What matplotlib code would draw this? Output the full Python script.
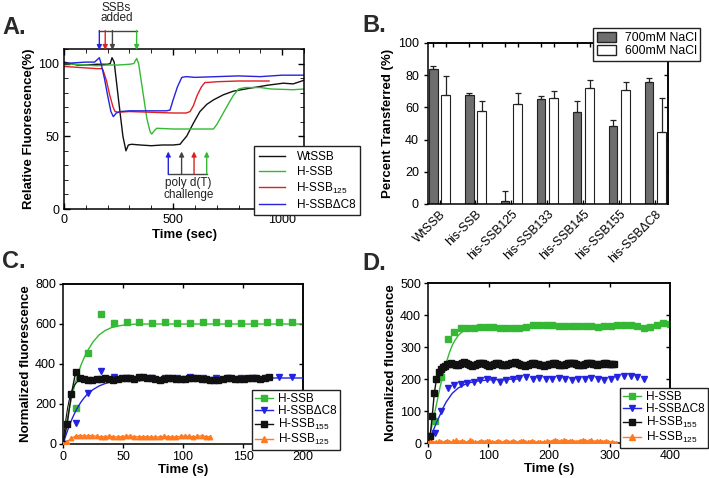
import numpy as np
import matplotlib
matplotlib.use('Agg')
import matplotlib.pyplot as plt
from matplotlib.lines import Line2D
from matplotlib.patches import Patch

plt.rcParams['font.family'] = ['Liberation Sans', 'DejaVu Sans']
plt.rcParams['mathtext.default'] = 'regular'
plt.rcParams['axes.linewidth'] = 1.1
plt.rcParams['xtick.major.width'] = 1.0
plt.rcParams['ytick.major.width'] = 1.0

GREEN = '#35b935'
BLUE = '#2323e0'
RED = '#e02020'
ORANGE = '#ff7a20'
BLACK = '#111111'
GREY = '#444444'

# ---------------- Panel A data ----------------
wt_t = [0, 30, 60, 100, 150, 200, 212, 220, 230, 250, 270, 284, 295, 310, 350, 400, 450, 500, 532, 545,
        562, 593, 623, 655, 685, 730, 776, 850, 929, 1005, 1050, 1100]
wt_v = [101, 100, 99, 99, 99.5, 99.5, 100, 104, 101, 75, 50, 40, 44, 44.5, 44, 43.5, 44, 44, 44.5, 47,
        50, 59, 67, 72, 75, 78.5, 81, 83, 85, 86.5, 86, 88.5]
hssb_t = [0, 50, 100, 150, 200, 250, 300, 320, 333, 342, 360, 380, 395, 402, 415, 425, 500, 600, 670, 685,
          700, 730, 760, 776, 800, 830, 900, 950, 1050, 1100]
hssb_v = [100, 99.5, 99, 98.5, 99, 99, 99.5, 100, 103.5, 100, 82, 62, 53, 51.5, 54, 55.5, 55, 55, 55, 55,
          58, 66, 74, 78, 82.5, 83.5, 83.5, 82.5, 82, 82.5]
h125_t = [0, 50, 100, 150, 175, 180, 195, 210, 225, 234, 250, 300, 400, 500, 560, 578, 593, 610, 630, 646,
          660, 700, 800, 900, 940]
h125_v = [98, 97.5, 97, 96.5, 96.5, 95, 88, 78, 70, 67, 66.5, 67, 66.5, 66, 66, 67, 71, 78, 84, 87,
          87, 87.5, 88, 88, 88]
hdc8_t = [0, 50, 100, 140, 155, 162, 170, 185, 200, 215, 226, 240, 257, 300, 400, 470, 486, 500, 520, 540,
          560, 600, 700, 800, 900, 1000, 1100]
hdc8_v = [100, 100.5, 101, 101, 103, 104, 100, 90, 78, 67, 63.5, 66, 67, 67.5, 67.5, 67.5, 68, 75, 84, 90.5,
          91, 90.5, 91, 91.5, 91, 92, 92]
ssb_add_t = [162, 189, 222, 333]
polydt_t = [478, 539, 596, 654]

# ---------------- Panel B data ----------------
b_labels = ['WtSSB', 'his-SSB', 'his-SSB125', 'his-SSB133', 'his-SSB145', 'his-SSB155', 'his-SSBΔC8']
b_700 = [84, 67.5, 2, 65, 57, 48.5, 75.5]
b_700_err = [2, 1.5, 6, 2, 7, 3.5, 2.5]
b_600 = [68, 57.5, 62, 66, 72, 71, 45]
b_600_err = [11.5, 6.5, 7, 4, 5, 5, 21]

# ---------------- Panel C data ----------------
c_green = [0, 182, 456, 648, 603, 608, 608, 603, 608, 603, 603, 608, 610, 603, 605, 605, 608, 610, 608]
c_blue = [0, 107, 257, 367, 337, 330, 332, 330, 328, 332, 333, 330, 328, 330, 332, 330, 330, 333, 333]
c_black = [0, 100, 250, 358, 330, 326, 322, 320, 324, 326, 328, 325, 322, 325, 330, 332, 328, 326, 333, 336,
           332, 328, 324, 322, 325, 328, 330, 327, 324, 326, 329, 331, 330, 327, 324, 322, 320, 322, 325, 328,
           330, 327, 325, 327, 330, 332, 330, 327, 330, 333]
c_orange = [0, 12, 28, 40, 42, 40, 41, 42, 38, 36, 37, 39, 37, 35, 37, 40, 39, 37, 35, 37,
            36, 35, 34, 36, 38, 37, 35, 36, 38, 40, 38, 36, 38, 41, 37, 36]
c_fit_t = [0, 2.5, 5, 7.5, 10, 12.5, 15, 17.5, 20, 25, 30, 35, 40, 45, 50, 55, 60, 70, 80, 100, 200]
c_green_fit = [0, 90, 170, 240, 300, 350, 395, 430, 462, 510, 545, 567, 581, 589, 594, 597, 599, 600, 600, 600, 600]
c_blue_fit = [0, 45, 88, 125, 158, 186, 210, 230, 247, 272, 290, 302, 311, 318, 322, 325, 327, 329, 330, 330, 330]
c_black_fit_t = [0, 1, 2, 3, 4, 5, 6, 8, 10, 12, 15, 20, 25, 30, 40, 172]
c_black_fit = [0, 55, 105, 148, 185, 215, 240, 275, 298, 312, 322, 328, 330, 330, 330, 330]

# ---------------- Panel D data ----------------
d_green = [0, 70, 205, 324, 348, 358, 360, 358, 362, 363, 362, 360, 360, 358, 358, 362, 368, 370, 370, 368,
           365, 365, 366, 366, 365, 365, 364, 366, 365, 368, 370, 370, 365, 360, 362, 370, 375, 372]
d_blue = [0, 30, 100, 172, 180, 183, 186, 190, 198, 200, 198, 192, 198, 200, 204, 205, 200, 202, 200, 200,
          202, 200, 198, 200, 200, 202, 200, 198, 200, 205, 210, 210, 205, 200]
d_black = [0, 22, 84, 157, 200, 222, 232, 238, 242, 246,
           248, 250, 248, 245, 243, 246, 250, 252, 250, 247,
           244, 242, 244, 247, 250, 251, 249, 246, 243, 242,
           244, 247, 249, 250, 248, 245, 243, 244, 246, 249,
           251, 252, 250, 247, 245, 243, 242, 244, 247, 249,
           250, 248, 246, 244, 243, 242, 244, 246, 248, 250,
           249, 247, 245, 244, 245, 247, 249, 250, 251, 249,
           247, 245, 244, 245, 247, 249, 250, 249, 247, 246,
           245, 246, 248, 250, 249, 247, 246, 247, 248]
d_orange = [0, 2, 4, 1, 3, 5, 2, 0, 4, 7,
            3, 1, 5, 8, 4, 2, 6, 3, 0, 4,
            8, 5, 2, 1, 4, 6, 3, 2, 5, 7,
            4, 1, 3, 6, 2, 0, 3, 5, 2, 4,
            6, 3, 1, 2, 5, 7, 4, 2, 3, 6,
            3, 0, 2, 4, 1, 3, 5, 2, 4, 6,
            8, 5, 3, 6, 9, 6, 4, 7, 5, 3,
            2, 4, 7, 10, 6, 3, 5, 8, 4, 2,
            5, 7, 4, 2, 6, 3, 1, 2, 0, 0]
d_green_fit_t = [0, 5, 10, 15, 20, 25, 30, 35, 40, 45, 50, 55, 60, 65, 70, 80]
d_green_fit = [0, 40, 85, 130, 175, 215, 250, 280, 305, 322, 336, 345, 351, 355, 358, 360]
d_blue_fit_t = [0, 5, 10, 15, 20, 25, 30, 40, 50, 60, 70, 80, 100, 120, 150]
d_blue_fit = [0, 22, 45, 68, 88, 110, 128, 155, 172, 182, 189, 193, 197, 199, 200]

W, H = 709, 478
fig = plt.figure(figsize=(W / 100, H / 100), dpi=100)


def ax_px(l, t, r, b):
    return fig.add_axes([l / W, 1 - b / H, (r - l) / W, (b - t) / H])


def mirror(ax, xt, yt):
    sx = ax.secondary_xaxis('top')
    sx.set_xticks(xt)
    sx.tick_params(direction='in', labeltop=False, length=3)
    sy = ax.secondary_yaxis('right')
    sy.set_yticks(yt)
    sy.tick_params(direction='in', labelright=False, length=3)


LBL = dict(fontweight='bold', fontsize=9.5)
TICK = 9
LEGKW = dict(bbox_transform=fig.transFigure, frameon=True, fancybox=False, edgecolor='#222222',
             framealpha=1, borderaxespad=0, loc='upper left')

# ================= Panel A =================
axA = ax_px(64, 49, 304, 209)
axA.plot(wt_t, wt_v, color=BLACK, lw=1)
axA.plot(hssb_t, hssb_v, color=GREEN, lw=1)
axA.plot(h125_t, h125_v, color=RED, lw=1)
axA.plot(hdc8_t, hdc8_v, color=BLUE, lw=1)
axA.set_xlim(0, 1100)
axA.set_ylim(0, 110)
axA.set_xticks([0, 500, 1000])
axA.set_xticks(np.arange(0, 1101, 100), minor=True)
axA.set_yticks([0, 50, 100])
axA.set_yticks(np.arange(0, 111, 10), minor=True)
axA.tick_params(which='both', direction='in', top=True, right=True, labelsize=TICK)
axA.tick_params(which='major', length=4)
axA.tick_params(which='minor', length=3)
axA.set_xlabel('Time (sec)', labelpad=2, **LBL)
axA.set_ylabel('Relative Fluorescence(%)', labelpad=2, **LBL)

arrow_cols = [BLUE, RED, GREY, GREEN]
for t, c in zip(ssb_add_t, arrow_cols):
    axA.annotate('', xy=(t, 109.3), xytext=(t, 122.7),
                 arrowprops=dict(arrowstyle='-|>', color=c, lw=1, shrinkA=0, shrinkB=0, mutation_scale=7),
                 annotation_clip=False)
axA.plot([ssb_add_t[0], ssb_add_t[-1]], [122.7, 122.7], color=GREY, lw=1, clip_on=False)
axA.text(241, 138.5, 'SSBs', ha='center', va='center', fontsize=8.5, color='#222222', clip_on=False)
axA.text(241, 131, 'added', ha='center', va='center', fontsize=8.5, color='#222222', clip_on=False)

pol_cols = [BLUE, GREY, RED, GREEN]
for t, c in zip(polydt_t, pol_cols):
    axA.annotate('', xy=(t, 39.5), xytext=(t, 24),
                 arrowprops=dict(arrowstyle='-|>', color=c, lw=1, shrinkA=0, shrinkB=0, mutation_scale=7))
axA.plot([polydt_t[0], polydt_t[-1]], [24, 24], color=GREY, lw=1)
axA.text(570, 17.8, 'poly d(T)', ha='center', va='center', fontsize=8.5, color='#222222')
axA.text(570, 9.6, 'challenge', ha='center', va='center', fontsize=8.5, color='#222222')

hA = [Line2D([], [], color=BLACK, lw=1), Line2D([], [], color=GREEN, lw=1),
      Line2D([], [], color=RED, lw=1), Line2D([], [], color=BLUE, lw=1)]
legA = fig.legend(hA, ['WtSSB', 'H-SSB', 'H-SSB$_{125}$', 'H-SSBΔC8'],
                  bbox_to_anchor=(254 / W, 1 - 146 / H), fontsize=8.5,
                  handlelength=2.2, handletextpad=1.0, labelspacing=0.25, borderpad=0.4, **LEGKW)
legA.get_frame().set_linewidth(1.0)

# ================= Panel B =================
axB = ax_px(428, 43, 668, 204)
xb = np.arange(len(b_labels))
off, bw = 0.17, 0.23
axB.bar(xb - off, b_700, width=bw, color='#6e6e6e', edgecolor='#222222', lw=0.8, zorder=2)
axB.bar(xb + off, b_600, width=bw + 0.02, color='white', edgecolor='#222222', lw=0.8, zorder=2)
axB.errorbar(xb - off, b_700, yerr=[[0] * len(b_700), b_700_err], fmt='none', ecolor='#222222',
             elinewidth=0.9, capsize=2.5, capthick=0.9, zorder=3)
axB.errorbar(xb + off, b_600, yerr=[[0] * len(b_600), b_600_err], fmt='none', ecolor='#222222',
             elinewidth=0.9, capsize=2.5, capthick=0.9, zorder=3)
axB.set_xlim(-0.32, 6.35)
axB.set_ylim(0, 100)
axB.set_yticks(np.arange(0, 101, 20))
axB.set_xticks(xb)
axB.set_xticklabels(b_labels, rotation=45, ha='right', rotation_mode='anchor', fontsize=8.8)
axB.tick_params(axis='x', direction='in', length=3, pad=3)
axB.tick_params(axis='y', direction='out', length=3, labelsize=TICK)
mirror(axB, np.concatenate([xb - off, xb + off]), np.arange(20, 100, 20))
axB.set_ylabel('Percent Transferred (%)', labelpad=3, **LBL)
hB = [Patch(facecolor='#6e6e6e', edgecolor='#222222'), Patch(facecolor='white', edgecolor='#222222')]
legB = fig.legend(hB, ['700mM NaCl', '600mM NaCl'], bbox_to_anchor=(593 / W, 1 - 28 / H),
                  fontsize=8.8, handlelength=1.6, handleheight=0.9, handletextpad=0.7,
                  labelspacing=0.1, borderpad=0.3, **LEGKW)
legB.get_frame().set_linewidth(1.0)

# ================= Panel C =================
axC = ax_px(63, 284, 303, 444)
tcg = np.arange(len(c_green)) * 10.6
tcb = np.arange(len(c_blue)) * 10.6
tck = np.arange(len(c_black)) * 3.5
tco = np.arange(len(c_orange)) * 3.5
axC.plot(c_fit_t, c_green_fit, color=GREEN, lw=1, zorder=2)
axC.plot(tcg, c_green, 's', color=GREEN, ms=5, zorder=2)
axC.plot(c_fit_t, c_blue_fit, color=BLUE, lw=1, zorder=3)
axC.plot(tcb, c_blue, 'v', color=BLUE, ms=5, zorder=3)
axC.plot(c_black_fit_t, c_black_fit, color=BLACK, lw=0.8, zorder=4)
axC.plot(tck, c_black, '-s', color=BLACK, ms=4, lw=1, zorder=4)
axC.plot(tco, c_orange, '-^', color=ORANGE, ms=3.2, lw=1, zorder=5)
axC.set_xlim(0, 200)
axC.set_ylim(0, 800)
axC.set_xticks([0, 50, 100, 150, 200])
axC.set_yticks([0, 200, 400, 600, 800])
axC.tick_params(direction='out', length=3, labelsize=TICK, pad=2)
mirror(axC, [50, 100, 150], [200, 400, 600])
axC.set_xlabel('Time (s)', labelpad=1, **LBL)
axC.set_ylabel('Normalized fluorescence', labelpad=2, **LBL)

hC = [Line2D([], [], color=GREEN, marker='s', ms=5, lw=1),
      Line2D([], [], color=BLUE, marker='v', ms=5, lw=1),
      Line2D([], [], color=BLACK, marker='s', ms=4, lw=1),
      Line2D([], [], color=ORANGE, marker='^', ms=4, lw=1)]
labsC = ['H-SSB', 'H-SSBΔC8', 'H-SSB$_{155}$', 'H-SSB$_{125}$']
LEGC = dict(fontsize=8.5, handlelength=1.5, handletextpad=0.45, labelspacing=0.0, borderpad=0.25)
legC = fig.legend(hC, labsC, bbox_to_anchor=(252 / W, 1 - 390 / H), **LEGC, **LEGKW)
legC.get_frame().set_linewidth(1.0)

# ================= Panel D =================
axD = ax_px(428, 283, 670, 443)
tdg = np.arange(len(d_green)) * 10.8
tdb = np.arange(len(d_blue)) * 10.8
tdk = np.arange(len(d_black)) * 3.5
tdo = np.arange(len(d_orange)) * 3.5
axD.plot(d_green_fit_t, d_green_fit, color=GREEN, lw=1, zorder=2)
axD.plot(tdg, d_green, 's', color=GREEN, ms=4.5, zorder=2)
axD.plot(d_blue_fit_t, d_blue_fit, color=BLUE, lw=1, zorder=3)
axD.plot(tdb, d_blue, 'v', color=BLUE, ms=4.5, zorder=3)
axD.plot(tdk, d_black, '-s', color=BLACK, ms=4.2, lw=1, zorder=4)
axD.plot(tdo, d_orange, '-^', color=ORANGE, ms=3, lw=1, zorder=5)
axD.set_xlim(0, 400)
axD.set_ylim(0, 500)
axD.set_xticks([0, 100, 200, 300, 400])
axD.set_yticks([0, 100, 200, 300, 400, 500])
axD.tick_params(direction='out', length=3, labelsize=TICK, pad=2)
mirror(axD, [100, 200, 300], [100, 200, 300, 400])
axD.set_xlabel('Time (s)', labelpad=1, **LBL)
axD.set_ylabel('Normalized fluorescence', labelpad=2, **LBL)
legD = fig.legend(hC, labsC, bbox_to_anchor=(620 / W, 1 - 388 / H), **LEGC, **LEGKW)
legD.get_frame().set_linewidth(1.0)

# panel letters
for x, y, s in [(2, 27, 'A.'), (362, 25, 'B.'), (2, 262, 'C.'), (362, 264, 'D.')]:
    fig.text(x / W, 1 - y / H, s, fontsize=17, fontweight='bold', va='center', ha='left', color='#2a2a2a')

fig.savefig('out.png', dpi=100)
